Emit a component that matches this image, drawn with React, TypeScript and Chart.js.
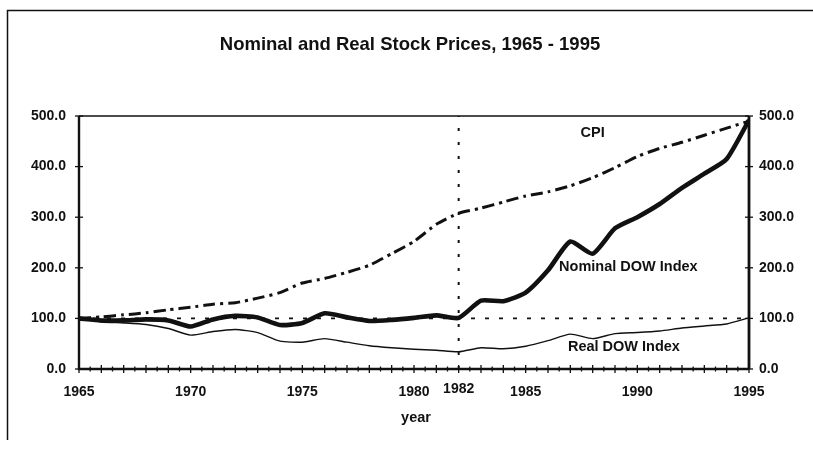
import React, { useEffect, useRef } from "react";
import { Chart, registerables } from "chart.js";

Chart.register(...registerables);

const titleText = "Nominal and Real Stock Prices, 1965 - 1995";
const xAxisTitle = "year";

const years = [
  1965, 1966, 1967, 1968, 1969, 1970, 1971, 1972, 1973, 1974, 1975, 1976, 1977, 1978, 1979, 1980,
  1981, 1982, 1983, 1984, 1985, 1986, 1987, 1988, 1989, 1990, 1991, 1992, 1993, 1994, 1995,
];
const cpi = [
  100, 103, 107, 111, 117, 122, 128, 131, 140, 151, 170, 179, 191, 205, 228, 252,
  286, 308, 318, 330, 342, 350, 362, 378, 398, 420, 436, 448, 462, 476, 490,
];
const nominalDow = [
  100, 96, 96, 98, 96, 84, 98, 105, 102, 87, 91, 110, 102, 95, 97, 101,
  106, 101, 135, 134, 151, 195, 252, 228, 278, 300, 326, 358, 386, 415, 492,
];
const realDow = [
  100, 93, 91, 88, 80, 67, 74, 78, 72, 55, 53, 60, 53, 46, 42, 39,
  37, 34, 42, 40, 45, 56, 69, 60, 70, 72, 75, 81, 85, 89, 101,
];
const baseYears = [1965, 1995];
const baseLevel = [100, 100];
const markYear = 1982;
const markRange = [0, 500];
const xLabelYears = [1965, 1970, 1975, 1980, 1982, 1985, 1990, 1995];
const seriesLabels = ["CPI", "Nominal DOW Index", "Real DOW Index"];
const labelYears = [1988, 1989.6, 1989.4];
const labelValues = [466, 202, 44];

const FONT = "'Liberation Sans', Arial, sans-serif";
const INK = "#111";

const extrasPlugin = {
  id: "extras",
  afterDraw(chart: any) {
    const { ctx, chartArea } = chart;
    const x = chart.scales.x;
    const y = chart.scales.y;
    ctx.save();
    ctx.strokeStyle = INK;
    ctx.fillStyle = INK;
    // outer frame (left & top)
    ctx.lineWidth = 1.5;
    ctx.beginPath();
    ctx.moveTo(7.5, 440);
    ctx.lineTo(7.5, 10.5);
    ctx.lineTo(813, 10.5);
    ctx.stroke();
    // plot box
    ctx.lineWidth = 1.6;
    ctx.beginPath();
    ctx.moveTo(chartArea.left, chartArea.top);
    ctx.lineTo(chartArea.right, chartArea.top);
    ctx.stroke();
    ctx.lineWidth = 2.4;
    ctx.beginPath();
    ctx.moveTo(chartArea.left, chartArea.top);
    ctx.lineTo(chartArea.left, chartArea.bottom);
    ctx.lineTo(chartArea.right, chartArea.bottom);
    ctx.stroke();
    ctx.lineWidth = 2.8;
    ctx.beginPath();
    ctx.moveTo(chartArea.right, chartArea.top);
    ctx.lineTo(chartArea.right, chartArea.bottom);
    ctx.stroke();
    // crossing ticks on x
    ctx.lineWidth = 1.3;
    for (let v = x.min; v <= x.max + 1e-9; v += 0.5) {
      const px = x.getPixelForValue(v);
      const h = Number.isInteger(v) ? 4 : 2.5;
      ctx.beginPath();
      ctx.moveTo(px, chartArea.bottom - h);
      ctx.lineTo(px, chartArea.bottom + h);
      ctx.stroke();
    }
    // crossing ticks on y axes
    for (let v = y.min; v <= y.max; v += 100) {
      const py = y.getPixelForValue(v);
      [chartArea.left, chartArea.right].forEach((ax) => {
        ctx.beginPath();
        ctx.moveTo(ax - 4, py);
        ctx.lineTo(ax + 4, py);
        ctx.stroke();
      });
    }
    // x tick labels
    ctx.textAlign = "center";
    ctx.textBaseline = "alphabetic";
    ctx.font = `bold 14px ${FONT}`;
    xLabelYears.forEach((v) => {
      const lift = v === markYear ? 3 : 0;
      ctx.fillText(String(v), x.getPixelForValue(v), chartArea.bottom + 27 - lift);
    });
    // title
    ctx.font = `bold 18.5px ${FONT}`;
    ctx.fillText(titleText, 410, 50);
    // x axis title
    ctx.font = `bold 14.5px ${FONT}`;
    ctx.fillText(xAxisTitle, (chartArea.left + chartArea.right) / 2 + 2, chartArea.bottom + 53);
    // series labels
    ctx.textBaseline = "middle";
    ctx.font = `bold 14.5px ${FONT}`;
    seriesLabels.forEach((t, i) => {
      ctx.fillText(t, x.getPixelForValue(labelYears[i]), y.getPixelForValue(labelValues[i]));
    });
    ctx.restore();
  },
};

export default function App() {
  const ref = useRef<HTMLCanvasElement | null>(null);
  useEffect(() => {
    if (!ref.current) return;
    const pts = (xs: number[], ys: number[]) => xs.map((v, i) => ({ x: v, y: ys[i] }));
    const chart = new Chart(ref.current, {
      type: "line",
      data: {
        datasets: [
          {
            label: "baseline",
            data: pts(baseYears, baseLevel),
            borderColor: INK,
            borderWidth: 1.6,
            borderDash: [4, 10],
            pointRadius: 0,
          },
          {
            label: "1982",
            data: pts([markYear, markYear], markRange),
            borderColor: INK,
            borderWidth: 2,
            borderDash: [3, 11],
            pointRadius: 0,
          },
          {
            label: "CPI",
            data: pts(years, cpi),
            borderColor: INK,
            borderWidth: 3,
            borderDash: [12, 5, 3, 5],
            pointRadius: 0,
            tension: 0.2,
          },
          {
            label: "Nominal DOW Index",
            data: pts(years, nominalDow),
            borderColor: INK,
            borderWidth: 4.6,
            pointRadius: 0,
            tension: 0.2,
          },
          {
            label: "Real DOW Index",
            data: pts(years, realDow),
            borderColor: INK,
            borderWidth: 1.4,
            pointRadius: 0,
            tension: 0.2,
          },
        ],
      },
      options: {
        responsive: false,
        animation: false,
        layout: { padding: { top: 116, left: 0, right: 0, bottom: 0 } },
        plugins: { legend: { display: false }, tooltip: { enabled: false } },
        scales: {
          x: {
            type: "linear",
            min: 1965,
            max: 1995,
            grid: { display: false, drawTicks: false },
            border: { display: false },
            ticks: { display: false },
            afterFit: (s: any) => {
              s.height = 81;
            },
          },
          y: {
            position: "left",
            min: 0,
            max: 500,
            grid: { display: false, drawTicks: false },
            border: { display: false },
            ticks: {
              stepSize: 100,
              padding: 13,
              color: INK,
              font: { family: FONT, size: 14, weight: "bold" },
              callback: (v: any) => Number(v).toFixed(1),
            },
            afterFit: (s: any) => {
              s.width = 79;
            },
          },
          y1: {
            position: "right",
            min: 0,
            max: 500,
            grid: { display: false, drawTicks: false },
            border: { display: false },
            ticks: {
              stepSize: 100,
              padding: 10,
              color: INK,
              font: { family: FONT, size: 14, weight: "bold" },
              callback: (v: any) => Number(v).toFixed(1),
            },
            afterFit: (s: any) => {
              s.width = 64;
            },
          },
        },
      },
      plugins: [extrasPlugin],
    });
    return () => chart.destroy();
  }, []);
  return (
    <div style={{ position: "fixed", left: 0, top: 0, width: 813, height: 450, background: "#fff" }}>
      <canvas ref={ref} width={813} height={450} style={{ width: 813, height: 450, display: "block" }} />
    </div>
  );
}
